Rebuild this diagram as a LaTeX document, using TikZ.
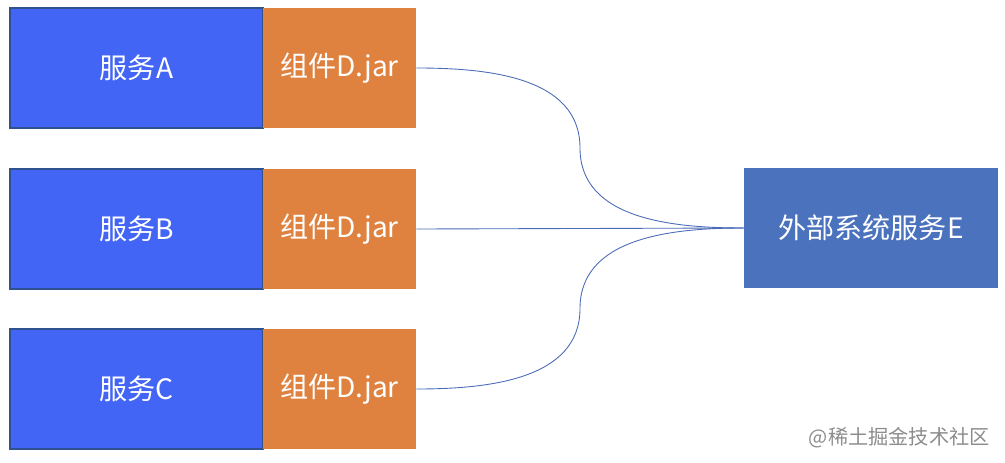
\documentclass[tikz,border=0pt]{standalone}
\usepackage{fontspec}
\setmainfont{Noto Sans CJK SC}
\usetikzlibrary{positioning,calc}
\definecolor{svcblue}{HTML}{4365F5}
\definecolor{svcedge}{HTML}{2F528F}
\definecolor{jarorange}{HTML}{E0823F}
\definecolor{extblue}{HTML}{4A72BD}
\definecolor{linkblue}{HTML}{4A6BB5}

\begin{document}
\begin{tikzpicture}[x=0.02cm,y=-0.02cm,
  every node/.style={font=\fontsize{16}{19}\selectfont,text=white,inner sep=0pt},
  svc/.style={fill=svcblue,draw=svcedge,line width=0.8pt,minimum width=5.06cm,minimum height=2.4cm},
  jar/.style={fill=jarorange,minimum width=3.06cm,minimum height=2.4cm},
  ext/.style={fill=extblue,minimum width=5.08cm,minimum height=2.4cm},
  link/.style={draw=linkblue,line width=0.5pt}]
\useasboundingbox (0,0) rectangle (1005,463);
\node[svc] (sa) at (136.5,68) {服务A};
\node[jar] (ja) at (339.5,68) {组件D.jar};
\node[svc] (sb) at (136.5,229) {服务B};
\node[jar] (jb) at (339.5,229) {组件D.jar};
\node[svc] (sc) at (136.5,389) {服务C};
\node[jar] (jc) at (339.5,389) {组件D.jar};
\node[ext] (e) at (871,228) {外部系统服务E};
\coordinate (ma) at ($(ja.east)!0.5!(e.west)$);
\coordinate (mc) at ($(jc.east)!0.5!(e.west)$);
\draw[link] (ja.east) to[out=0,in=90] (ma) to[out=-90,in=180] (e.west);
\draw[link] (jb.east) -- (e.west);
\draw[link] (jc.east) to[out=0,in=-90] (mc) to[out=90,in=180] (e.west);
\node[text=black!45,font=\fontsize{11.5}{14}\selectfont,anchor=east] (wm) at (990,438) {@稀土掘金技术社区};
\end{tikzpicture}
\end{document}
